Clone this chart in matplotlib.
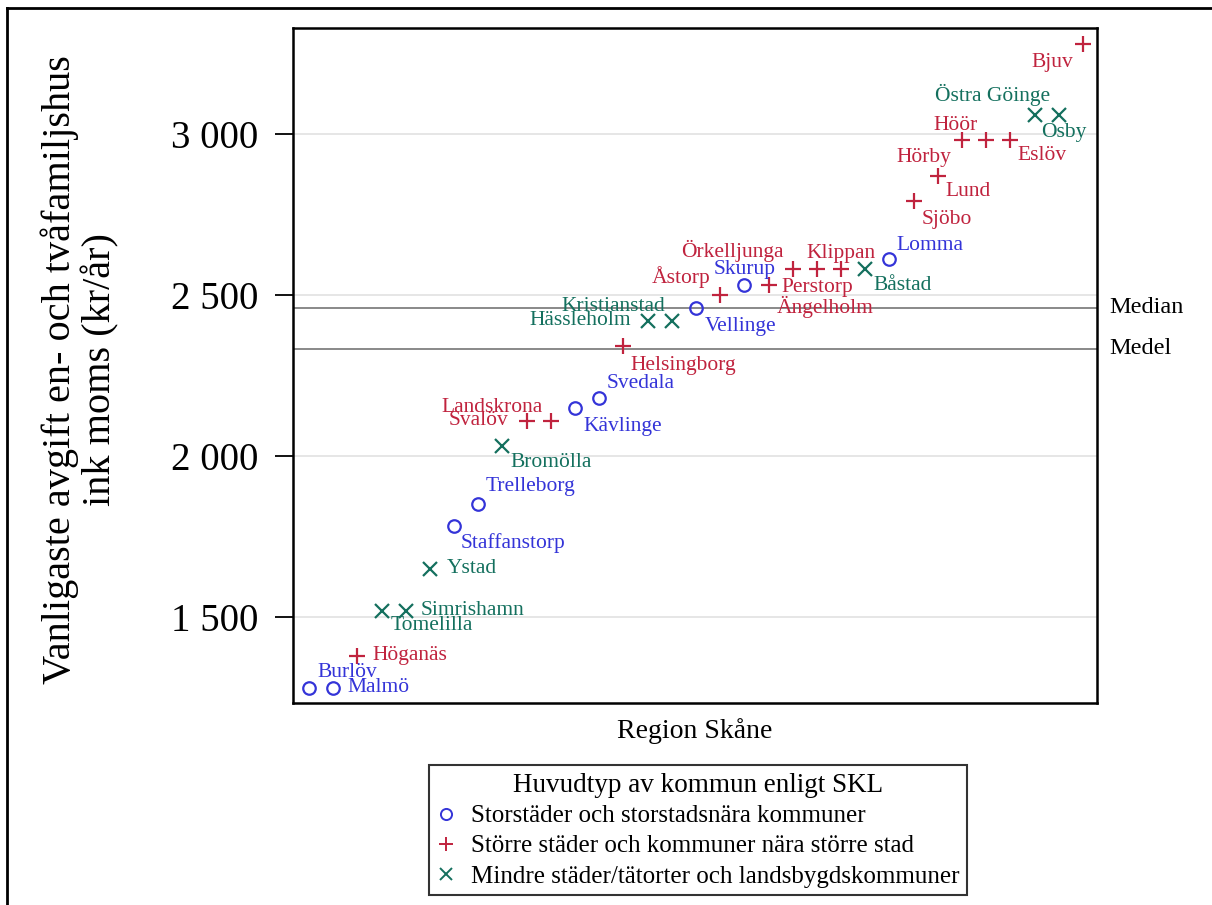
import numpy as np
import matplotlib
matplotlib.use('Agg')
import matplotlib.pyplot as plt
from matplotlib.lines import Line2D
from matplotlib.transforms import blended_transform_factory

plt.rcParams['font.family'] = ['Liberation Serif', 'DejaVu Serif']

# kommuner, avgift (kr/år) och huvudtyp (0 = storstad, 1 = större stad, 2 = mindre/landsbygd)
kommuner = ['Burlöv', 'Malmö', 'Höganäs', 'Tomelilla', 'Simrishamn', 'Ystad',
            'Staffanstorp', 'Trelleborg', 'Bromölla', 'Svalöv', 'Landskrona',
            'Kävlinge', 'Svedala', 'Helsingborg', 'Hässleholm', 'Kristianstad',
            'Vellinge', 'Åstorp', 'Skurup', 'Ängelholm', 'Örkelljunga', 'Perstorp',
            'Klippan', 'Båstad', 'Lomma', 'Sjöbo', 'Lund', 'Hörby', 'Höör', 'Eslöv',
            'Osby', 'Östra Göinge', 'Bjuv']
avgift = [1281, 1281, 1379, 1519, 1519, 1650,
          1782, 1850, 2030, 2109, 2109,
          2149, 2181, 2341, 2420, 2420,
          2460, 2500, 2531, 2531, 2580, 2580,
          2580, 2580, 2611, 2790, 2870, 2980, 2980, 2980,
          3059, 3059, 3279]
typ = [0, 0, 1, 2, 2, 2,
       0, 0, 2, 1, 1,
       0, 0, 1, 2, 2,
       0, 1, 0, 1, 1, 1,
       1, 2, 0, 1, 1, 1, 1, 1,
       2, 2, 1]
typnamn = ['Storstäder och storstadsnära kommuner',
           'Större städer och kommuner nära större stad',
           'Mindre städer/tätorter och landsbygdskommuner']
yticks = [1500, 2000, 2500, 3000]
ytick_labels = ['1 500', '2 000', '2 500', '3 000']

# label placement (pixel offsets, alignment)
lab_pos = {
    'Burlöv': (8, 15, 'left'), 'Malmö': (14, 0, 'left'), 'Höganäs': (15, 0, 'left'),
    'Tomelilla': (9, -15, 'left'), 'Simrishamn': (15, 0, 'left'), 'Ystad': (17, 0, 'left'),
    'Staffanstorp': (7, -17, 'left'), 'Trelleborg': (7, 18, 'left'),
    'Bromölla': (8, -16, 'left'), 'Svalöv': (-18, 0, 'right'),
    'Landskrona': (-8, 13, 'right'), 'Kävlinge': (8, -19, 'left'),
    'Svedala': (7, 14, 'left'), 'Helsingborg': (7, -19, 'left'),
    'Hässleholm': (-17, 0, 'right'), 'Kristianstad': (-7, 14, 'right'),
    'Vellinge': (9, -19, 'left'), 'Åstorp': (-10, 18, 'right'),
    'Skurup': (0, 15, 'center'), 'Ängelholm': (8, -22, 'left'),
    'Örkelljunga': (-9, 18, 'right'), 'Perstorp': (0, -18, 'center'),
    'Klippan': (0, 16, 'center'), 'Båstad': (8, -16, 'left'),
    'Lomma': (7, 14, 'left'), 'Sjöbo': (8, -18, 'left'), 'Lund': (8, -16, 'left'),
    'Hörby': (-11, -17, 'right'), 'Höör': (-9, 15, 'right'),
    'Eslöv': (7, -15, 'left'), 'Osby': (7, -18, 'left'),
    'Östra Göinge': (-9, 20, 'right'), 'Bjuv': (-10, -19, 'right'),
}

colors = ['#3434d8', '#c0233e', '#14705e']
markers = ['o', '+', 'x']
msize = [9, 11, 10]

fig = plt.figure(figsize=(12.12, 9.05), dpi=100)
ax = fig.add_axes([293/1212, 1 - 703/905, (1097-293)/1212, (703-28)/905])

y = np.array(avgift, dtype=float)
order = np.argsort(y, kind='stable')
rank = np.empty(len(y))
rank[order] = np.arange(1, len(y) + 1)
t = np.array(typ)

for k in range(3):
    m = t == k
    ax.plot(rank[m], y[m], linestyle='none', marker=markers[k], markersize=msize[k],
            markerfacecolor='none', markeredgecolor=colors[k], markeredgewidth=1.6,
            zorder=3)

for i, namn in enumerate(kommuner):
    dx, dy, ha = lab_pos[namn]
    ax.annotate(namn, (rank[i], y[i]), xytext=(dx, dy), textcoords='offset pixels',
                ha=ha, va='center', fontsize=15.5, color=colors[typ[i]], zorder=4)

median = np.median(y)
medel = np.mean(y)
ax.axhline(median, color='#808080', lw=1.3, zorder=2)
ax.axhline(medel, color='#808080', lw=1.3, zorder=2)
tr = blended_transform_factory(ax.transAxes, ax.transData)
ax.text(1 + 12/804, median, 'Median', transform=tr, ha='left', va='center', fontsize=17.5)
ax.text(1 + 12/804, medel, 'Medel', transform=tr, ha='left', va='center', fontsize=17.5)

ax.set_xlim(0.34, 33.58)
ax.set_ylim(1233, 3328)
ax.set_yticks(yticks)
ax.set_yticklabels(ytick_labels, fontsize=28)
ax.set_xticks([])
ax.tick_params(axis='y', length=13, width=1.3, pad=12)
ax.grid(axis='y', color='#e6e6e6', lw=1.4, zorder=0)
ax.set_axisbelow(True)
for s in ax.spines.values():
    s.set_linewidth(1.8)

ax.set_xlabel('Region Skåne', fontsize=20, labelpad=11)
fig.text(80/1212, 1 - 370/905, 'Vanligaste avgift en- och tvåfamiljshus\nink moms (kr/år)',
         rotation=90, ha='center', va='center', fontsize=29, multialignment='center',
         linespacing=1.1)

handles = [Line2D([], [], linestyle='none', marker=markers[k], markersize=msize[k] - 1,
                  markerfacecolor='none', markeredgecolor=colors[k], markeredgewidth=1.4)
           for k in range(3)]
leg = fig.legend(handles, typnamn, title='Huvudtyp av kommun enligt SKL',
                 loc='upper center', bbox_to_anchor=(698/1212, 1 - 765/905),
                 fontsize=18, title_fontsize=19.5, frameon=True, fancybox=False,
                 edgecolor='black', handlelength=0.8, handletextpad=0.6,
                 borderpad=0.3, labelspacing=0.3, borderaxespad=0)
leg.get_frame().set_linewidth(1.5)

# outer frame (top and left edges visible)
fig.add_artist(Line2D([7/1212, 1.0], [1 - 8/905, 1 - 8/905], color='black', lw=2,
                      transform=fig.transFigure))
fig.add_artist(Line2D([7/1212, 7/1212], [0, 1 - 8/905], color='black', lw=2,
                      transform=fig.transFigure))

fig.savefig('out.png', dpi=100)
